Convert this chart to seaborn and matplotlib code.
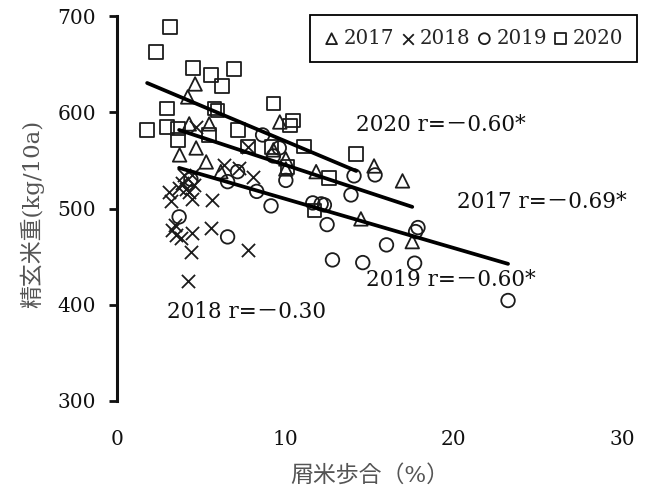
import matplotlib
matplotlib.use("Agg")
import matplotlib.pyplot as plt
import pandas as pd
import seaborn as sns

# ---- observations: broken-rice ratio (%) vs. brown rice weight (kg/10a) ----
x_2017 = [4.64, 4.20, 4.29, 5.48, 9.67, 4.70, 3.72, 5.30, 6.17, 9.29, 10.03,
          10.03, 11.83, 15.27, 16.96, 14.49, 17.54]
y_2017 = [629.4, 615.9, 587.9, 587.9, 589.9, 562.9, 555.7, 548.4, 538.3, 560.9,
          551.5, 541.1, 538.3, 544.2, 528.7, 489.2, 465.6]

x_2018 = [4.70, 7.76, 6.37, 7.26, 8.10, 3.99, 4.46, 3.69, 4.09, 4.58, 3.10,
          3.20, 4.48, 5.67, 3.45, 3.49, 3.79, 4.48, 4.40, 5.57, 7.80, 4.23,
          3.87, 4.29, 3.27]
y_2018 = [584.7, 564.0, 545.3, 541.8, 532.8, 534.9, 534.9, 521.4, 520.4, 524.5,
          517.2, 507.9, 510.0, 508.9, 483.0, 472.6, 469.2, 474.7, 455.2, 479.9,
          456.5, 424.8, 526.6, 517.2, 477.8]

x_2019 = [8.65, 9.64, 9.29, 10.03, 14.08, 15.33, 13.90, 6.57, 8.30, 9.15, 11.63,
          12.13, 12.32, 12.48, 16.01, 6.57, 3.69, 4.39, 7.16, 17.88, 17.74, 12.80,
          14.60, 17.68, 23.23]
y_2019 = [576.4, 562.9, 554.6, 529.2, 533.9, 534.9, 514.1, 527.9, 517.8, 502.7,
          505.8, 504.8, 503.7, 483.3, 462.2, 470.5, 491.3, 530.4, 538.3, 480.2,
          476.0, 446.6, 443.8, 443.2, 404.4]

x_2020 = [3.15, 2.32, 4.52, 5.60, 6.96, 6.25, 9.29, 5.80, 5.98, 2.98, 2.98, 1.79,
          3.63, 3.63, 7.20, 5.48, 10.45, 10.27, 7.77, 9.17, 11.10, 14.21, 10.12,
          12.58, 11.73]
y_2020 = [688.6, 662.6, 646.0, 638.7, 645.0, 627.3, 609.1, 603.9, 601.9, 603.9,
          584.7, 581.6, 583.2, 571.2, 581.6, 576.4, 591.3, 586.1, 564.3, 563.7,
          564.3, 556.7, 543.2, 531.5, 498.0]

# ---- fitted regression lines (end points over each year's x range) ----
fit_2017_x = [3.69, 17.54]
fit_2017_y = [581.6, 501.7]
fit_2019_x = [3.69, 23.23]
fit_2019_y = [542.2, 442.5]
fit_2020_x = [1.79, 14.21]
fit_2020_y = [630.4, 539.0]

years = ["2017", "2018", "2019", "2020"]
r_labels = ["2017 r=\uff0d0.69*", "2018 r=\uff0d0.30",
            "2019 r=\uff0d0.60*", "2020 r=\uff0d0.60*"]
r_label_x = [20.2, 2.95, 14.8, 14.2]
r_label_y = [506.5, 392.0, 426.0, 587.0]

x_ticks = [0, 10, 20, 30]
y_ticks = [300, 400, 500, 600, 700]

sns.set_theme(style="white")
plt.rcParams["font.family"] = ["DejaVu Serif", "Noto Sans CJK JP"]

fig = plt.figure(figsize=(6.57, 4.96), dpi=100)
ax = fig.add_axes([117 / 657, 1 - 401 / 496, 505 / 657, 385 / 496])

ink = "#1c1c1c"
hollow = dict(facecolor="none", edgecolor=ink, linewidth=1.3, s=95)

sns.scatterplot(x=x_2017, y=y_2017, marker="^", label=years[0], ax=ax, **hollow)
sns.scatterplot(x=x_2018, y=y_2018, marker="x", label=years[1], ax=ax,
                color=ink, linewidth=1.3, s=90)
sns.scatterplot(x=x_2019, y=y_2019, marker="o", label=years[2], ax=ax, **hollow)
sns.scatterplot(x=x_2020, y=y_2020, marker="s", label=years[3], ax=ax, **hollow)

for fx, fy in [(fit_2017_x, fit_2017_y), (fit_2019_x, fit_2019_y),
               (fit_2020_x, fit_2020_y)]:
    sns.lineplot(x=fx, y=fy, color="black", linewidth=2.7, ax=ax, zorder=4,
                 legend=False)

for txt, tx, ty in zip(r_labels, r_label_x, r_label_y):
    ax.text(tx, ty, txt, fontsize=15.5, ha="left", va="center", color="#111111")

ax.set_xlim(0, 30)
ax.set_ylim(300, 700)
ax.set_xticks(x_ticks)
ax.set_yticks(y_ticks)
ax.tick_params(axis="x", length=0, pad=21, labelsize=14.5, colors="#111111")
ax.tick_params(axis="y", left=True, direction="out", length=6, width=2,
               pad=9, labelsize=14.5, colors="#111111")

for side in ["top", "right", "bottom"]:
    ax.spines[side].set_visible(False)
ax.spines["left"].set_linewidth(2.2)
ax.spines["left"].set_color("#111111")

ax.set_xlabel("屑米歩合（%）", fontsize=16.5, color="#555555")
ax.set_ylabel("精玄米重(kg/10a)", fontsize=16.5, color="#555555")
ax.xaxis.set_label_coords(0.5, -0.165)
ax.yaxis.set_label_coords(-0.145, 0.485)

ax.legend(loc="upper right", bbox_to_anchor=(637 / 657, 1 - 15 / 496),
          bbox_transform=fig.transFigure, ncol=4, frameon=True, fancybox=False,
          edgecolor="black", framealpha=1, markerscale=0.8, handlelength=0.8,
          handletextpad=0.2, columnspacing=0.3, borderpad=0.7,
          fontsize=14.3, borderaxespad=0)
ax.get_legend().get_frame().set_linewidth(1.3)

fig.savefig("out.png", dpi=100)
